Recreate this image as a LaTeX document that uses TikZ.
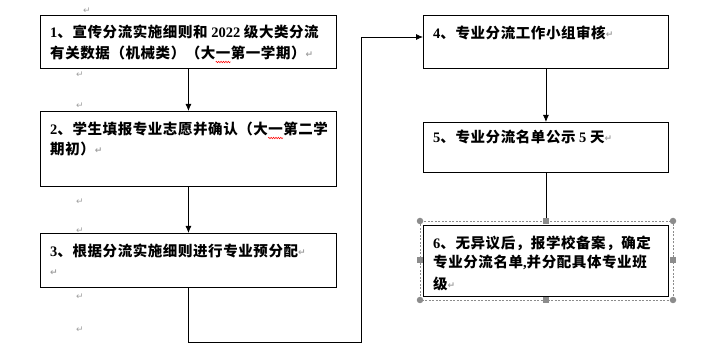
\documentclass[tikz,border=0pt]{standalone}
\usepackage{fontspec}
\setmainfont{Liberation Serif}
\newfontfamily\cjk[LetterSpace=4]{Noto Sans CJK SC}
\newfontfamily\dvfont{DejaVu Sans}
\usetikzlibrary{arrows.meta,decorations.pathmorphing}
\definecolor{pmgray}{HTML}{A0A0A0}
\definecolor{hdl}{HTML}{8C8C8C}
\newcommand\zh[1]{{\cjk\bfseries #1}}
\newcommand\pmk{{\dvfont\fontsize{9}{9}\selectfont\color{pmgray}\raisebox{1pt}{↵}}}
\tikzset{
  box/.style={draw=black, line width=0.9pt, fill=white, anchor=north west, inner sep=0pt},
  txt/.style={anchor=base west, inner sep=0pt, font=\fontsize{14.5}{18}\selectfont\bfseries},
  pm/.style={anchor=center, inner sep=0pt},
  arr/.style={line width=0.8pt, -{Latex[length=7pt,width=6pt]}},
  ln/.style={line width=0.8pt},
  wav/.style={draw=red, line width=0.5pt, decorate, decoration={zigzag, amplitude=0.8pt, segment length=2.4pt}},
  sel/.style={draw=hdl, line width=0.5pt, dash pattern=on 2pt off 1.5pt},
  hround/.style={circle, fill=hdl, inner sep=0pt, minimum size=6.5pt},
  hsquare/.style={rectangle, fill=hdl, inner sep=0pt, minimum size=6pt}
}
\begin{document}
\begin{tikzpicture}[x=1pt,y=-1pt]
\useasboundingbox (0,0) rectangle (704,352);
% paragraph marks outside boxes
\node[pm] (p1) at (87,11) {\pmk};
\node[pm] (p2) at (80,75) {\pmk};
\node[pm] (p3) at (80,106) {\pmk};
\node[pm] (p4) at (80,202) {\pmk};
\node[pm] (p5) at (80,231) {\pmk};
\node[pm] (p6) at (80,297) {\pmk};
\node[pm] (p7) at (80,330) {\pmk};
% boxes
\node[box, minimum width=296pt, minimum height=53pt] (b1) at (40,15) {};
\node[box, minimum width=296pt, minimum height=75pt] (b2) at (40,111) {};
\node[box, minimum width=296pt, minimum height=54pt] (b3) at (40,233) {};
\node[box, minimum width=245pt, minimum height=53pt] (b4) at (423,15) {};
\node[box, minimum width=245pt, minimum height=50pt] (b5) at (423,122) {};
% selection frame of box 6
\draw[sel] (420,221) rectangle (673,300);
\node[box, minimum width=245pt, minimum height=71pt] (b6) at (423,225) {};
% texts
\node[txt] (t1a) at (50,37.5) {1\zh{、宣传分流实施细则和} 2022 \zh{级大类分流}};
\node[txt] (t1b) at (50,58.5) {\zh{有关数据（机械类）（大}};
\node[txt] (u1) at (t1b.base east) {\zh{一}};
\node[txt] (t1c) at (u1.base east) {\zh{第一学期）}\pmk};
\node[txt] (t2a) at (50,134.5) {2\zh{、学生填报专业志愿并确认（大}};
\node[txt] (u2) at (t2a.base east) {\zh{一}};
\node[txt] (t2c) at (u2.base east) {\zh{第二学}};
\node[txt] (t2b) at (50,154.5) {\zh{期初）}\pmk};
\node[txt] (t3a) at (50,256.5) {3\zh{、根据分流实施细则进行专业预分配}\pmk};
\node[txt] (t3b) at (50,277) {\pmk};
\node[txt] (t4) at (433,38.5) {4\zh{、专业分流工作小组审核}\pmk};
\node[txt] (t5) at (433,142.5) {5\zh{、专业分流名单公示} 5 \zh{天}\pmk};
\node[txt] (t6a) at (433,248.5) {6\zh{、无异议后，报学校备案，确定}};
\node[txt] (t6b) at (433,267.5) {\zh{专业分流名单}\textbf{,}\zh{并分配具体专业班}};
\node[txt] (t6c) at (433,290) {\zh{级}\pmk};
% spell-check marks
\draw[wav] ([yshift=-3.5pt]u1.base west) -- ([yshift=-3.5pt]u1.base east);
\draw[wav] ([yshift=-3.5pt]u2.base west) -- ([yshift=-3.5pt]u2.base east);
% connectors
\draw[arr] (b1.south) -- (b2.north);
\draw[arr] (b2.south) -- (b3.north);
\coordinate (c1) at (361,342);
\coordinate (c2) at (361,37);
\draw[arr] (b3.south) |- (c1) -- (c2) -- (c2 -| b4.west);
\draw[arr] (b4.south) -- (b5.north);
\coordinate (h6) at (546,221);
\draw[ln] (b5.south) -- (b5.south |- h6);
% selection handles
\node[hround] (hc1) at (420,221) {};
\node[hround] (hc2) at (673,221) {};
\node[hround] (hc3) at (420,300) {};
\node[hround] (hc4) at (673,300) {};
\node[hsquare] (hs1) at (h6) {};
\node[hsquare] (hs2) at (546,300) {};
\node[hsquare] (hs3) at (420,260.5) {};
\node[hsquare] (hs4) at (673,260.5) {};
\end{tikzpicture}
\end{document}
